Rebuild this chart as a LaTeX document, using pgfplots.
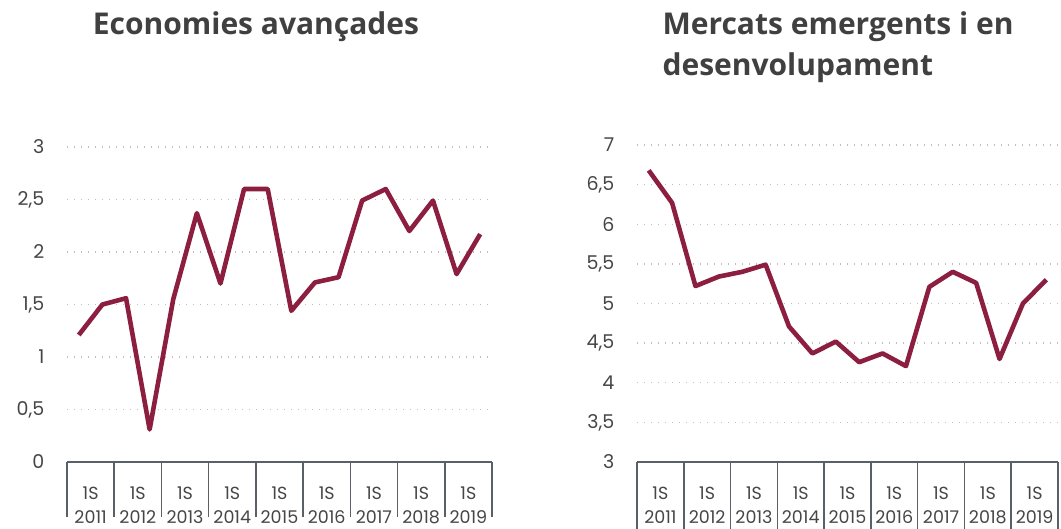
\documentclass[border=0pt]{standalone}
\usepackage{fontspec}
\setmainfont{Poppins}
\newfontfamily\titlefont{Open Sans}
\usepackage{pgfplots}
\pgfplotsset{compat=1.18}

\definecolor{linered}{RGB}{140,30,64}
\definecolor{axisgray}{RGB}{90,96,104}
\definecolor{gridgray}{RGB}{190,190,190}
\definecolor{labelgray}{RGB}{70,70,70}
\definecolor{titlegray}{RGB}{64,64,64}

\pgfplotsset{
  halfyear/.style={
    scale only axis,
    xmin=0, xmax=9,
    axis x line=bottom,
    axis y line=left,
    x axis line style={-, draw=axisgray, line width=2pt},
    y axis line style={draw=none},
    ytick style={draw=none},
    xtick={0.5,1.5,...,8.5},
    xticklabels={{1S\\2011},{1S\\2012},{1S\\2013},{1S\\2014},{1S\\2015},{1S\\2016},{1S\\2017},{1S\\2018},{1S\\2019}},
    xtick style={draw=none},
    xticklabel style={align=center, anchor=north, yshift=-19pt,
      font=\fontsize{17.5}{24}\selectfont, text=labelgray},
    yticklabel style={anchor=east, xshift=-17pt,
      font=\fontsize{19}{22}\selectfont, text=labelgray},
    ymajorgrids,
    grid style={draw=gridgray, line width=1.4pt, dash pattern=on 1.4pt off 5.6pt},
    clip=false,
  },
  redline/.style={color=linered, line width=4.6pt, line join=round, mark=none},
}

\begin{document}
\begin{tikzpicture}
\path[use as bounding box] (0,0) rectangle (1061pt,-528pt);

\node[font=\titlefont\bfseries\fontsize{30}{40}\selectfont, anchor=base, text=titlegray]
  at (256pt,-34pt) {Economies avançades};
\node[font=\titlefont\bfseries\fontsize{30}{40}\selectfont, anchor=base west, text=titlegray]
  at (659pt,-34pt) {Mercats emergents i en};
\node[font=\titlefont\bfseries\fontsize{30}{40}\selectfont, anchor=base west, text=titlegray]
  at (659pt,-75pt) {desenvolupament};

\begin{axis}[halfyear,
  at={(67pt,-462pt)}, anchor=south west,
  width=425pt, height=315pt,
  ymin=0, ymax=3,
  ytick={0,0.5,...,3},
  yticklabels={0,{0,5},1,{1,5},2,{2,5},3},
]
\pgfplotsinvokeforeach{0,...,9}{
  \draw[axisgray, line width=1.6pt] (axis cs:#1,0) -- ++(0,-55pt);
}
\addplot[redline] coordinates {
  (0.25,1.21) (0.75,1.50) (1.25,1.56) (1.75,0.31) (2.25,1.55) (2.75,2.37)
  (3.25,1.70) (3.75,2.60) (4.25,2.60) (4.75,1.44) (5.25,1.71) (5.75,1.76)
  (6.25,2.49) (6.75,2.60) (7.25,2.20) (7.75,2.49) (8.25,1.79) (8.75,2.17)
};
\end{axis}

\begin{axis}[halfyear,
  at={(637pt,-462pt)}, anchor=south west,
  width=421pt, height=317pt,
  ymin=3, ymax=7,
  ytick={3,3.5,...,7},
  yticklabels={3,{3,5},4,{4,5},5,{5,5},6,{6,5},7},
]
\pgfplotsinvokeforeach{0,...,9}{
  \draw[axisgray, line width=1.6pt] (axis cs:#1,3) -- ++(0,-55pt);
}
\addplot[redline] coordinates {
  (0.25,6.68) (0.75,6.27) (1.25,5.22) (1.75,5.34) (2.25,5.40) (2.75,5.49)
  (3.25,4.71) (3.75,4.37) (4.25,4.52) (4.75,4.26) (5.25,4.37) (5.75,4.21)
  (6.25,5.21) (6.75,5.40) (7.25,5.26) (7.75,4.30) (8.25,5.00) (8.75,5.30)
};
\end{axis}
\end{tikzpicture}
\end{document}
